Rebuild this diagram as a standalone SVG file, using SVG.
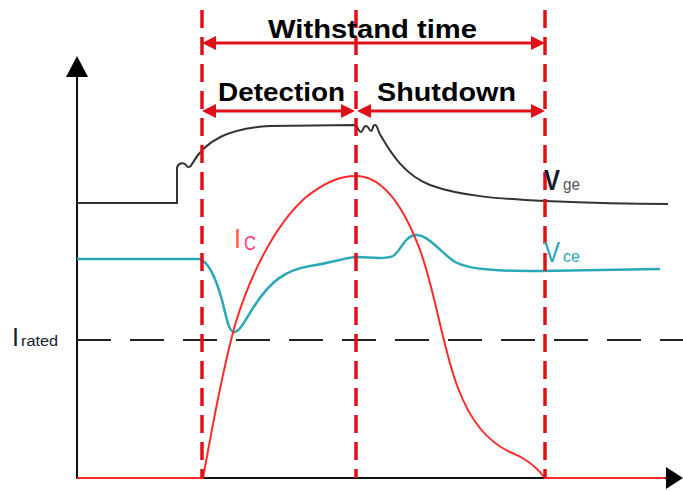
<svg xmlns="http://www.w3.org/2000/svg" width="683" height="491" viewBox="0 0 683 491">
<style>
.ax{stroke:#111;stroke-width:2;fill:none}
.vd{stroke:#e0101a;stroke-width:3.5;stroke-dasharray:18 9;fill:none}
.dim{stroke:#e0101a;stroke-width:3;fill:none}
.ah{fill:#e0101a}
.ttl{font-family:"Liberation Sans",Arial,sans-serif;font-weight:bold;font-size:26px;fill:#000}
.lbl{font-family:"Liberation Sans",Arial,sans-serif}
</style>
<rect width="683" height="491" fill="#fff"/>
<g id="axes">
<line class="ax" x1="77" y1="479" x2="77" y2="70"/>
<polygon points="66,77 77,56 88,77" fill="#000"/>
<line class="ax" x1="76" y1="478" x2="670" y2="478"/>
<polygon points="666,467 683,478 666,489" fill="#000"/>
<line x1="73" y1="340" x2="683" y2="340" stroke="#222" stroke-width="2" stroke-dasharray="34 19" stroke-dashoffset="-4"/>
</g>
<g id="curves">
<path id="vge" d="M77,203 H177 V168 C178,163 183,162 186,165 C188,168 190,168 192,164 C205,140 230,128 270,126 L356,125 C358,128 359,132 361,132 C363,132 363,126 366,126 C369,126 369,131 371,131 C373,131 372,125 375,125 C378,125 378,133 381,136 C392,155 405,175 430,185 C460,196 500,199 545,201 C590,203 630,204 668,204" fill="none" stroke="#333" stroke-width="2"/>
<path id="vce" d="M77,259 H200 C208,262 215,275 222,300 C227,320 229,332 234,332 C240,332 245,320 255,305 C270,282 285,270 310,266 C330,263 345,258 355,257 C370,257 385,260 393,256 C400,252 405,236 415,235 C428,234 440,252 455,262 C470,270 500,271 540,271 L660,269" fill="none" stroke="#2aa8b8" stroke-width="2.5"/>
<path id="ic" d="M77,478 H203 C212,430 220,380 235,325 C250,275 275,225 305,198 C325,182 340,176 356,176 C385,176 405,210 420,250 C435,290 443,350 458,388 C470,420 488,442 510,452 C525,458 535,465 545,478 H665" fill="none" stroke="#ff2a2a" stroke-width="2"/>
</g>
<g id="markers">
<line class="vd" x1="202" y1="10" x2="202" y2="478"/>
<line class="vd" x1="356" y1="10" x2="356" y2="478"/>
<line class="vd" x1="545" y1="10" x2="545" y2="478"/>
</g>
<g id="dimensions">
<line class="dim" x1="210" y1="43" x2="537" y2="43"/>
<polygon class="ah" points="202,43 216,36 216,50"/>
<polygon class="ah" points="545,43 531,36 531,50"/>
<line class="dim" x1="210" y1="111" x2="348" y2="111"/>
<polygon class="ah" points="202,111 216,104 216,118"/>
<polygon class="ah" points="355,111 341,104 341,118"/>
<line class="dim" x1="364" y1="111" x2="537" y2="111"/>
<polygon class="ah" points="357,111 371,104 371,118"/>
<polygon class="ah" points="545,111 531,104 531,118"/>
<text class="ttl" x="268" y="38" textLength="209" lengthAdjust="spacingAndGlyphs">Withstand time</text>
<text class="ttl" x="218" y="101" textLength="127" lengthAdjust="spacingAndGlyphs">Detection</text>
<text class="ttl" x="377" y="101" textLength="139" lengthAdjust="spacingAndGlyphs">Shutdown</text>
</g>
<g id="labels">
<text class="lbl" x="12" y="346" font-size="26" fill="#1a1a2e" textLength="7" lengthAdjust="spacingAndGlyphs">I</text>
<text class="lbl" x="21" y="346" font-size="14" fill="#1a1a2e" textLength="37" lengthAdjust="spacingAndGlyphs">rated</text>
<text class="lbl" x="234" y="248" font-size="28" fill="#ff5a40" textLength="7" lengthAdjust="spacingAndGlyphs">I</text>
<text class="lbl" x="244" y="250" font-size="20" fill="#ff3a6a" textLength="12" lengthAdjust="spacingAndGlyphs">C</text>
<text class="lbl" x="544" y="190" font-size="30" font-weight="bold" fill="#1a1a2e" textLength="16" lengthAdjust="spacingAndGlyphs">V</text>
<text class="lbl" x="563" y="190" font-size="17" fill="#555" textLength="17" lengthAdjust="spacingAndGlyphs">ge</text>
<text class="lbl" x="544" y="262" font-size="30" fill="#2aa8b8" textLength="16" lengthAdjust="spacingAndGlyphs">V</text>
<text class="lbl" x="563" y="262" font-size="17" fill="#2aa8b8" textLength="17" lengthAdjust="spacingAndGlyphs">ce</text>
</g>
</svg>
